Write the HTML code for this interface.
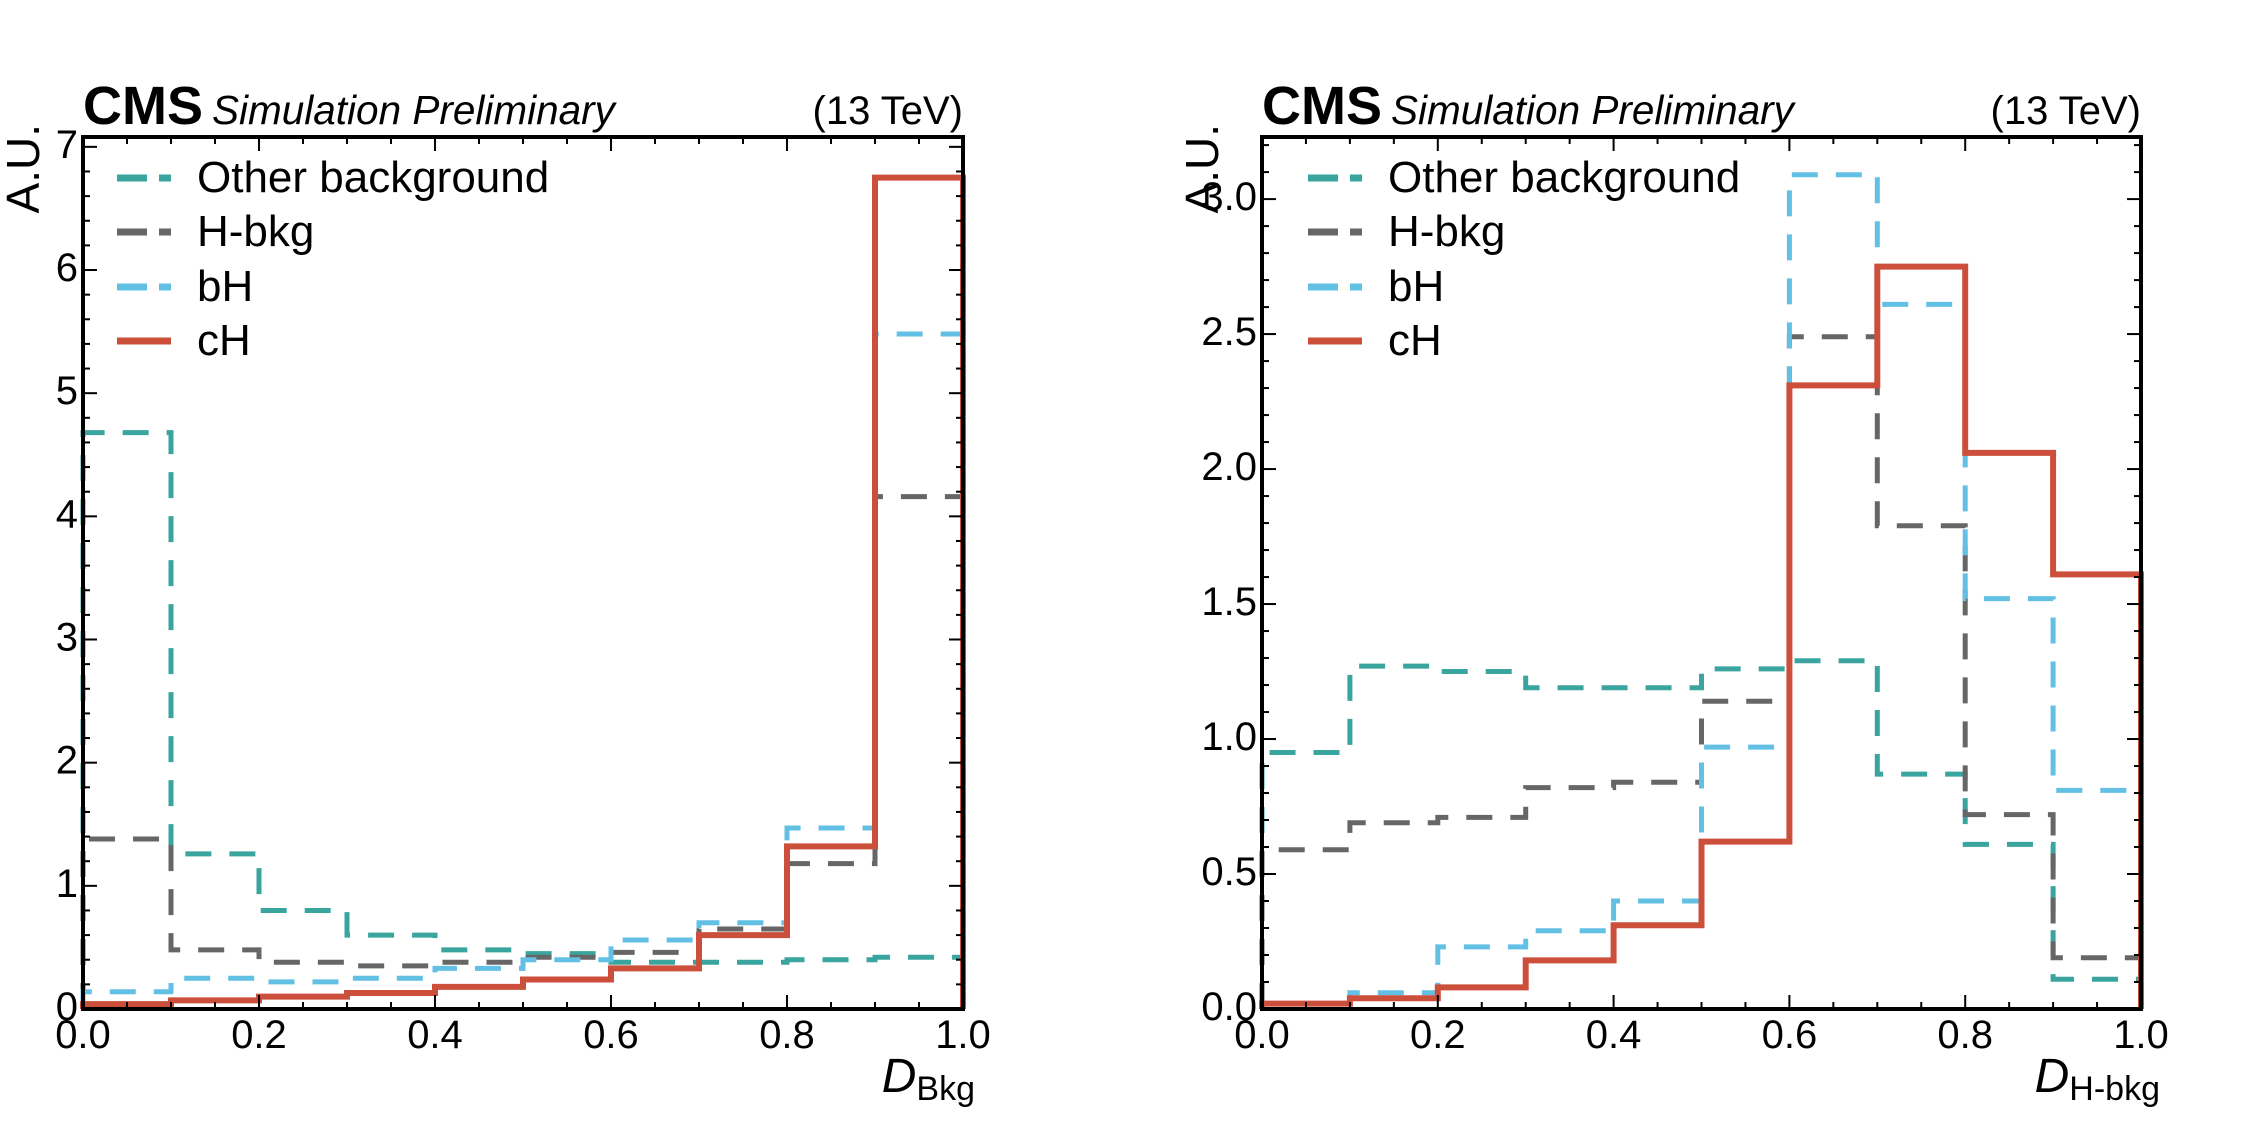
<!DOCTYPE html>
<html><head><meta charset="utf-8"><style>
html,body{margin:0;padding:0;background:#fff;}
svg{display:block;font-family:"Liberation Sans",Arial,sans-serif;}
</style></head><body>
<svg id="c" width="2255" height="1134" viewBox="0 0 2255 1134"></svg>
<script>
const binEdges=[0,0.1,0.2,0.3,0.4,0.5,0.6,0.7,0.8,0.9,1.0];
const seriesNames=["Other background","H-bkg","bH","cH"];
const leftOther=[4.68,1.26,0.80,0.60,0.48,0.45,0.38,0.38,0.40,0.42];
const leftHbkg=[1.38,0.48,0.38,0.35,0.38,0.42,0.46,0.65,1.18,4.16];
const leftBH=[0.14,0.25,0.22,0.25,0.33,0.40,0.56,0.70,1.47,5.48];
const leftCH=[0.04,0.07,0.10,0.13,0.18,0.24,0.33,0.60,1.32,6.75];
const rightOther=[0.95,1.27,1.25,1.19,1.19,1.26,1.29,0.87,0.61,0.11];
const rightHbkg=[0.59,0.69,0.71,0.82,0.84,1.14,2.49,1.79,0.72,0.19];
const rightBH=[0.02,0.06,0.23,0.29,0.40,0.97,3.09,2.61,1.52,0.81];
const rightCH=[0.02,0.04,0.08,0.18,0.31,0.62,2.31,2.75,2.06,1.61];
const xTickLabels=["0.0","0.2","0.4","0.6","0.8","1.0"];
const leftYTickLabels=["0","1","2","3","4","5","6","7"];
const rightYTickLabels=["0.0","0.5","1.0","1.5","2.0","2.5","3.0"];

const NS="http://www.w3.org/2000/svg";
const svg=document.getElementById('c');
function mk(tag,attrs,parent,text){const e=document.createElementNS(NS,tag);for(const k in attrs)e.setAttribute(k,attrs[k]);if(text!==undefined)e.textContent=text;(parent||svg).appendChild(e);return e;}
const styles=[
 {color:"#3aa59f",dash:"26 18",w:5},
 {color:"#666666",dash:"26 18",w:5},
 {color:"#62c0e4",dash:"26 18",w:5},
 {color:"#cc4f3b",dash:"",w:6}];

function panel(p){
 const g=mk('g',{});
 
 
 const L=p.x0,R=p.x1,T=137,B=1009;
 const xs=v=>L+(R-L)*v;
 const ys=v=>B-(B-T)*v/p.ymax;
 p.series.forEach((vals,si)=>{
  let d="M"+xs(binEdges[0])+","+ys(0);
  vals.forEach((v,i)=>{d+=" L"+xs(binEdges[i])+","+ys(v)+" L"+xs(binEdges[i+1])+","+ys(v);});
  d+=" L"+xs(binEdges[binEdges.length-1])+","+ys(0);
  const st=styles[si];
  const path=mk('path',{d:d,fill:"none",stroke:st.color,"stroke-width":st.w,"stroke-dasharray":st.dash,"stroke-linejoin":"miter"},g);
  
  
 });
 for(let i=0;i<=20;i++){const x=xs(i*0.05);const len=(i%4==0)?14:7;
  mk('line',{x1:x,x2:x,y1:B,y2:B-len,stroke:"#000","stroke-width":2},g);
  mk('line',{x1:x,x2:x,y1:T,y2:T+len,stroke:"#000","stroke-width":2},g);}
 xTickLabels.forEach((t,i)=>{const tl=mk('text',{x:xs(i*0.2),y:1048,"font-size":40,"text-anchor":"middle"},g,t);
  });
 for(let v=0;v<=p.ymax+1e-9;v+=p.minor){const y=ys(v);const major=Math.abs(v/p.major-Math.round(v/p.major))<1e-6;const len=major?14:7;
  mk('line',{x1:L,x2:L+len,y1:y,y2:y,stroke:"#000","stroke-width":2},g);
  mk('line',{x1:R,x2:R-len,y1:y,y2:y,stroke:"#000","stroke-width":2},g);}
 p.ylabels.forEach((t,i)=>{const tl=mk('text',{x:L-5,y:ys(i*p.major)+11,"font-size":40,"text-anchor":"end"},g,t);
  });
 const fr=mk('rect',{x:L,y:T,width:R-L,height:B-T,fill:"none",stroke:"#000","stroke-width":4},g);
 
 const rows=[192,246,301,355];
 seriesNames.forEach((n,i)=>{const st=styles[i];const lx=L+p.legOff;
  mk('line',{x1:lx,x2:lx+54,y1:rows[i]-14,y2:rows[i]-14,stroke:st.color,"stroke-width":7,"stroke-dasharray":st.dash?"30 12":""},g);
  const tx=mk('text',{x:lx+80,y:rows[i],"font-size":44},g,n);
  });
 const t1=mk('text',{x:L,y:124,"font-size":54,"font-weight":"bold"},g,"CMS");
 
 const t2=mk('text',{x:L+129,y:124,"font-size":40.5,"font-style":"italic"},g,"Simulation Preliminary");
 
 const t3=mk('text',{x:R,y:124,"font-size":40,"text-anchor":"end"},g,"(13 TeV)");
 
 const ya=mk('text',{x:0,y:0,"font-size":46,"text-anchor":"end",transform:"translate("+(L-44)+",124) rotate(-90)"},g,"A.U.");
 
 const xa=mk('text',{x:R+p.xtOff,y:1092,"font-size":42,"text-anchor":"end"},g);
 
 mk('tspan',{"font-style":"italic","font-size":48},xa,"D");
 mk('tspan',{"font-size":34,dy:8},xa,p.sub);
}
panel({name:"left-panel",x0:83,x1:963,ymax:7.08,major:1,minor:0.2,ylabels:leftYTickLabels,series:[leftOther,leftHbkg,leftBH,leftCH],sub:"Bkg",legOff:34,xtOff:12});
panel({name:"right-panel",x0:1262,x1:2141,ymax:3.23,major:0.5,minor:0.1,ylabels:rightYTickLabels,series:[rightOther,rightHbkg,rightBH,rightCH],sub:"H-bkg",legOff:46,xtOff:19});
</script>
</body></html>
